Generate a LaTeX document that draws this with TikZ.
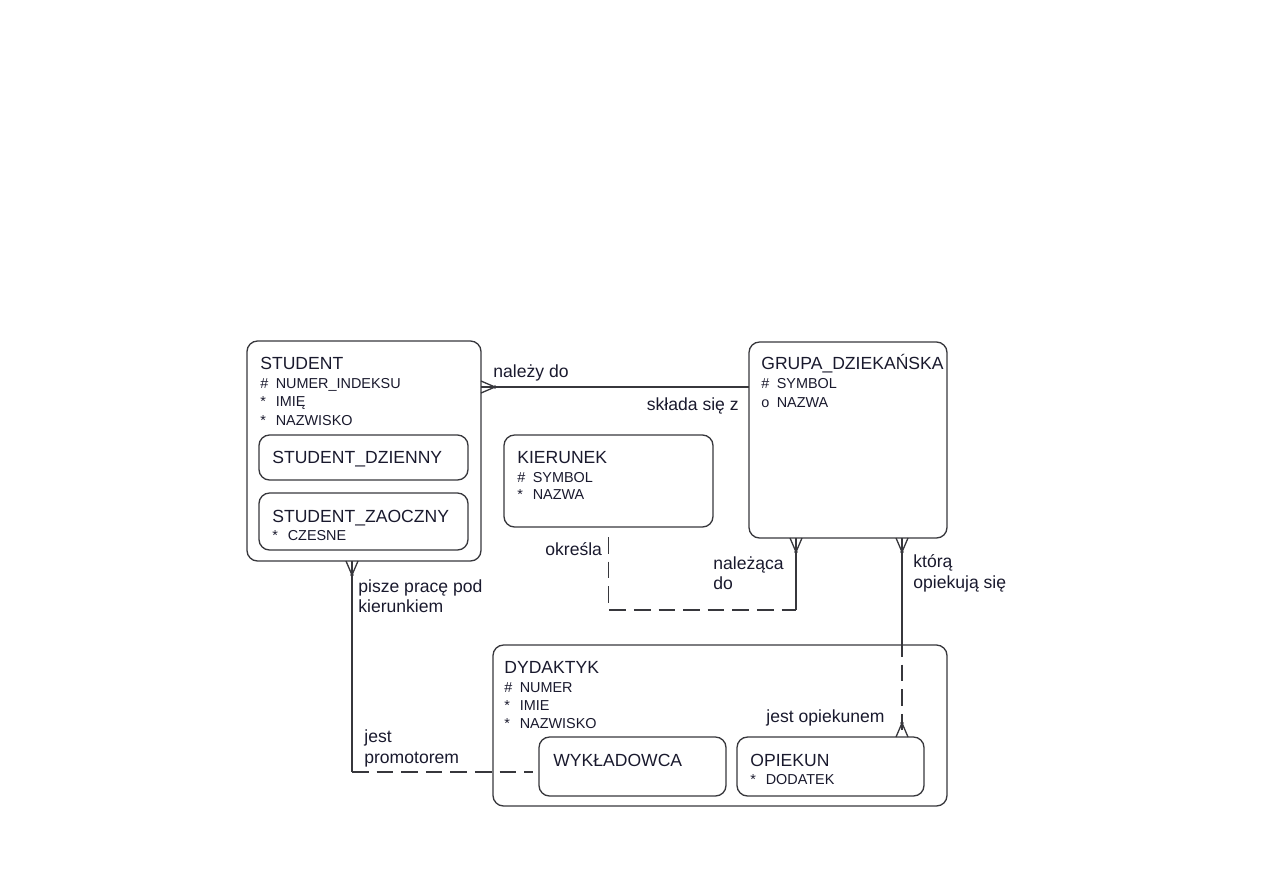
\documentclass[tikz,border=0pt]{standalone}
\usepackage{fontspec}
\setmainfont{Liberation Sans}
\usetikzlibrary{calc}
\definecolor{erLine}{RGB}{55,55,60}
\definecolor{erText}{RGB}{25,25,45}
\newcommand{\px}{0.02cm}
\tikzset{
  entbox/.style={draw=erLine, line width=0.75pt, rounded corners=6pt, inner sep=0pt, outer sep=0pt},
  relln/.style={draw=erLine, line width=0.75pt},
  optln/.style={relln, dash pattern=on 9.5pt off 4.5pt},
  ttl/.style={anchor=base west, inner sep=0pt, text=erText, font=\fontsize{10}{12}\selectfont},
  attr/.style={anchor=base west, inner sep=0pt, text=erText, font=\fontsize{8.2}{10}\selectfont},
  lbl/.style={ttl},
}
% crow's foot: feet on the box edge, tip pointing away from it
\newcommand{\crowft}[2]{%
  \draw[relln, shift={#1}, rotate=#2] (0,-6) -- (14,0) -- (0,6);
  \fill[erLine, shift={#1}, rotate=#2] (14,0) circle (1.1pt);
}
\newcommand{\mk}[1]{\makebox[8.8pt][l]{#1}}

\begin{document}
\begin{tikzpicture}[x=0.02cm, y=-0.02cm]
    \useasboundingbox (0,0) rectangle (1263,893);
    % entities
    \node[entbox, minimum width=234*\px, minimum height=220*\px] (stud) at (364,451) {};
    \node[entbox, minimum width=209*\px, minimum height=45*\px] (dzien) at (363.5,457.5) {};
    \node[entbox, minimum width=209*\px, minimum height=57*\px] (zaocz) at (363.5,521.5) {};
    \node[entbox, minimum width=198*\px, minimum height=196*\px] (grupa) at (848,440) {};
    \node[entbox, minimum width=209*\px, minimum height=92*\px] (kier) at (608.5,481) {};
    \node[entbox, minimum width=454*\px, minimum height=161*\px] (dyd) at (720,725.5) {};
    \node[entbox, minimum width=187*\px, minimum height=59*\px] (wyk) at (632.5,766.5) {};
    \node[entbox, minimum width=187*\px, minimum height=59*\px] (opk) at (830.5,766.5) {};
    % entity texts
    \node[ttl] (studT) at (260,369) {STUDENT};
    \node[attr] (studA1) at (260,388) {\mk{\#}NUMER\_INDEKSU};
    \node[attr] (studA2) at (260,406) {\mk{*}IMIĘ};
    \node[attr] (studA3) at (260,425) {\mk{*}NAZWISKO};
    \node[ttl] (dzienT) at (272,463) {STUDENT\_DZIENNY};
    \node[ttl] (zaoczT) at (272,522) {STUDENT\_ZAOCZNY};
    \node[attr] (zaoczA1) at (272,540) {\mk{*}CZESNE};
    \node[ttl] (grupaT) at (761,369) {GRUPA\_DZIEKAŃSKA};
    \node[attr] (grupaA1) at (761,388) {\mk{\#}SYMBOL};
    \node[attr] (grupaA2) at (761,407) {\mk{o}NAZWA};
    \node[ttl] (kierT) at (517,463) {KIERUNEK};
    \node[attr] (kierA1) at (517,482) {\mk{\#}SYMBOL};
    \node[attr] (kierA2) at (517,499) {\mk{*}NAZWA};
    \node[ttl] (dydT) at (504,673) {DYDAKTYK};
    \node[attr] (dydA1) at (504,692) {\mk{\#}NUMER};
    \node[attr] (dydA2) at (504,710) {\mk{*}IMIE};
    \node[attr] (dydA3) at (504,728) {\mk{*}NAZWISKO};
    \node[ttl] (wykT) at (553,766) {WYKŁADOWCA};
    \node[ttl] (opkT) at (750,766) {OPIEKUN};
    \node[attr] (opkA1) at (750,784) {\mk{*}DODATEK};
    % routing points
    \coordinate (sg) at (600,387);
    \coordinate (kg) at (796,610);
    \coordinate (sw) at (352,772);
    \coordinate (go) at (902,640);
    % STUDENT -- GRUPA_DZIEKANSKA
    \draw[relln] (stud.east |- sg) -- (grupa.west |- sg);
    \crowft{(stud.east |- sg)}{0}
    \node[lbl] (l1) at (493,377) {należy do};
    \node[lbl, anchor=base east] (l2) at (739,410) {składa się z};
    % KIERUNEK -- GRUPA_DZIEKANSKA
    \draw[optln, shorten <=5.7pt] (kier.south) |- (kg);
    \draw[relln] (kg) -- (grupa.south -| kg);
    \crowft{(grupa.south -| kg)}{-90}
    \node[lbl] (l3) at (545,555) {określa};
    \node[lbl] (l4a) at (713,569) {należąca};
    \node[lbl] (l4b) at (713,589) {do};
    % STUDENT -- WYKLADOWCA
    \draw[relln] (stud.south -| sw) -- (sw);
    \draw[optln, shorten >=3.5pt] (sw) -- (wyk.west |- sw);
    \crowft{(stud.south -| sw)}{-90}
    \node[lbl] (l5a) at (358,592) {pisze pracę pod};
    \node[lbl] (l5b) at (358,612) {kierunkiem};
    \node[lbl] (l6a) at (364,742) {jest};
    \node[lbl] (l6b) at (364,763) {promotorem};
    % GRUPA_DZIEKANSKA -- OPIEKUN
    \draw[relln] (grupa.south -| go) -- (go);
    \draw[optln] (go) -- (opk.north -| go);
    \crowft{(grupa.south -| go)}{-90}
    \crowft{(opk.north -| go)}{90}
    \node[lbl] (l7a) at (913,567) {którą};
    \node[lbl] (l7b) at (913,588) {opiekują się};
    \node[lbl] (l8) at (766,722) {jest opiekunem};
\end{tikzpicture}
\end{document}
